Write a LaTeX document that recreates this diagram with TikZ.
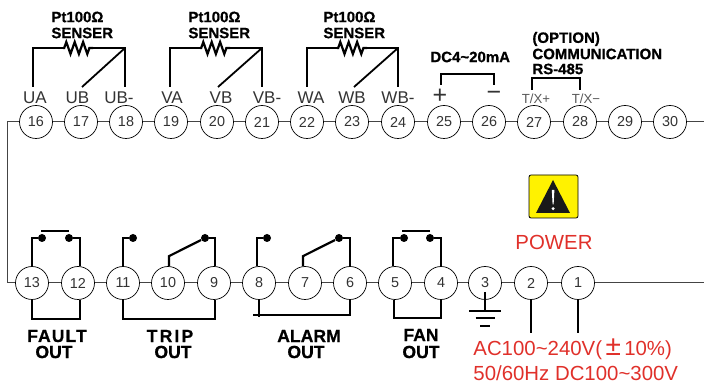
\documentclass[tikz,border=0pt]{standalone}
\usepackage{fontspec}
\setmainfont[BoldFeatures={FakeBold=0.7}]{Liberation Sans}
\usepackage{tikz}
\usetikzlibrary{calc, decorations.pathmorphing}
\definecolor{powerred}{HTML}{E0302A}
\definecolor{warnyellow}{HTML}{FFF200}
\definecolor{linkgray}{HTML}{444444}
\tikzset{
    term/.style={circle, draw, line width=0.35pt, minimum size=16.5pt, inner sep=0pt, text=black!80, font=\fontsize{7.2}{8}\selectfont},
    pinname/.style={inner sep=0pt, text=black!80, font=\fontsize{8.5}{10}\selectfont},
    txname/.style={inner sep=0pt, text=black!65, font=\fontsize{6.6}{8}\selectfont},
    sensertext/.style={inner sep=0pt, anchor=west, font=\fontsize{7.5}{9}\selectfont\bfseries},
    outtext/.style={inner sep=0pt, font=\fontsize{8.8}{10}\selectfont\bfseries},
    powertext/.style={inner sep=0pt, text=powerred, font=\fontsize{10.2}{12}\selectfont},
    wire/.style={line width=1.1pt, line join=miter},
    thinwire/.style={line width=0.9pt},
    link/.style={line width=0.5pt, draw=linkgray},
    res/.style={line width=1.1pt, decorate, decoration={zigzag, segment length=4.2pt, amplitude=3pt, pre length=0.6pt, post length=0.6pt}},
    dot/.style={circle, fill=black, inner sep=0pt, minimum size=4pt}
}
\begin{document}
\begin{tikzpicture}[x=0.5pt, y=-0.5pt]
    \useasboundingbox (0,0) rectangle (704,383);

    \node[term] at (36,122) (t16) {16};
    \node[term] at (81,122) (t17) {17};
    \node[term] at (126,122) (t18) {18};
    \node[term] at (171,122) (t19) {19};
    \node[term] at (217,122) (t20) {20};
    \node[term] at (262,122) (t21) {21};
    \node[term] at (307,122) (t22) {22};
    \node[term] at (352,122) (t23) {23};
    \node[term] at (398,122) (t24) {24};
    \node[term] at (444,122) (t25) {25};
    \node[term] at (489,122) (t26) {26};
    \node[term] at (534,122) (t27) {27};
    \node[term] at (580,122) (t28) {28};
    \node[term] at (625,122) (t29) {29};
    \node[term] at (670,122) (t30) {30};

    \node[term] at (32,283) (t13) {13};
    \node[term] at (78,283) (t12) {12};
    \node[term] at (123,283) (t11) {11};
    \node[term] at (168,283) (t10) {10};
    \node[term] at (214,283) (t9) {9};
    \node[term] at (259,283) (t8) {8};
    \node[term] at (305,283) (t7) {7};
    \node[term] at (350,283) (t6) {6};
    \node[term] at (395,283) (t5) {5};
    \node[term] at (441,283) (t4) {4};
    \node[term] at (485,283) (t3) {3};
    \node[term] at (531,283) (t2) {2};
    \node[term] at (578,283) (t1) {1};

    \draw[link] (t16) -- (t17);
    \draw[link] (t17) -- (t18);
    \draw[link] (t18) -- (t19);
    \draw[link] (t19) -- (t20);
    \draw[link] (t20) -- (t21);
    \draw[link] (t21) -- (t22);
    \draw[link] (t22) -- (t23);
    \draw[link] (t23) -- (t24);
    \draw[link] (t24) -- (t25);
    \draw[link] (t25) -- (t26);
    \draw[link] (t26) -- (t27);
    \draw[link] (t27) -- (t28);
    \draw[link] (t28) -- (t29);
    \draw[link] (t29) -- (t30);
    \draw[link] (t13) -- (t12);
    \draw[link] (t12) -- (t11);
    \draw[link] (t11) -- (t10);
    \draw[link] (t10) -- (t9);
    \draw[link] (t9) -- (t8);
    \draw[link] (t8) -- (t7);
    \draw[link] (t7) -- (t6);
    \draw[link] (t6) -- (t5);
    \draw[link] (t5) -- (t4);
    \draw[link] (t4) -- (t3);
    \draw[link] (t3) -- (t2);
    \draw[link] (t2) -- (t1);
    \coordinate (bend) at (7,122);
    \coordinate (right1) at (704,122);
    \coordinate (right2) at (704,283);
    \draw[link] (t16) -- (bend) |- (t13);
    \draw[link] (t30) -- (right1);
    \draw[link] (t1) -- (right2);

    \node[pinname] at (35,98) (ua) {UA};
    \node[pinname] at (77.5,98) (ub) {UB};
    \node[pinname] at (119,98) (ubm) {UB-};
    \node[pinname] at (172,98) (va) {VA};
    \node[pinname] at (221,98) (vb) {VB};
    \node[pinname] at (267,98) (vbm) {VB-};
    \node[pinname] at (311,98) (wa) {WA};
    \node[pinname] at (352,98) (wb) {WB};
    \node[pinname] at (398,98) (wbm) {WB-};
    \node[pinname, font=\fontsize{12.5}{13}\selectfont] at (440,96) (plus) {+};
    \node[pinname, font=\fontsize{12.5}{13}\selectfont] at (494,96) (minus) {−};
    \node[txname] at (536,99) (txp) {T/X+};
    \node[txname] at (586,99) (txm) {T/X−};

    \node[sensertext] at (51,17) (pt1) {Pt100Ω};
    \node[sensertext] at (51,33) (sen1) {SENSER};
    \node[sensertext] at (188,17) (pt2) {Pt100Ω};
    \node[sensertext] at (188,33) (sen2) {SENSER};
    \node[sensertext] at (323,17) (pt3) {Pt100Ω};
    \node[sensertext] at (323,33) (sen3) {SENSER};
    \node[sensertext] at (430,57) (dc) {DC4\textasciitilde20mA};
    \node[sensertext] at (532,39) (opt) {(OPTION)};
    \node[sensertext] at (532,54) (comm) {COMMUNICATION};
    \node[sensertext] at (532,69) (rs) {RS-485};

    \coordinate (a1) at (33,87);
    \coordinate (a2) at (63,48);
    \coordinate (a3) at (93,48);
    \coordinate (a4) at (125,48);
    \coordinate (a5) at (125,87);
    \coordinate (a6) at (82,87);
    \draw[wire] (a1) |- (a2);
    \draw[res] (a2) -- (a3);
    \draw[wire] (a3) -- (a4) -- (a5);
    \draw[thinwire] (a4) -- (a6);

    \coordinate (b1) at (170,87);
    \coordinate (b2) at (200,48);
    \coordinate (b3) at (230,48);
    \coordinate (b4) at (262,48);
    \coordinate (b5) at (262,87);
    \coordinate (b6) at (218,87);
    \draw[wire] (b1) |- (b2);
    \draw[res] (b2) -- (b3);
    \draw[wire] (b3) -- (b4) -- (b5);
    \draw[thinwire] (b4) -- (b6);

    \coordinate (c1) at (307,87);
    \coordinate (c2) at (337,48);
    \coordinate (c3) at (367,48);
    \coordinate (c4) at (398,48);
    \coordinate (c5) at (398,87);
    \coordinate (c6) at (354,87);
    \draw[wire] (c1) |- (c2);
    \draw[res] (c2) -- (c3);
    \draw[wire] (c3) -- (c4) -- (c5);
    \draw[thinwire] (c4) -- (c6);

    \coordinate (d1) at (441,85);
    \coordinate (d2) at (494,85);
    \draw[wire] (d1) -- ([yshift=5.5pt]d1) -- ([yshift=5.5pt]d2) -- (d2);
    \coordinate (e1) at (532,90);
    \coordinate (e2) at (580,90);
    \draw[wire] (e1) -- ([yshift=6pt]e1) -- ([yshift=6pt]e2) -- (e2);

    \node[dot] at (42,238) (f1) {};
    \node[dot] at (69,238) (f2) {};
    \coordinate (f3) at (41,231);
    \coordinate (f4) at (69,231);
    \draw[wire] (f3) -- (f4);
    \draw[wire] (t13.north) |- (f1);
    \draw[wire] ($(t12.north)+(2,0)$) |- (f2);
    \draw[wire] (t13.south) -- ++(0,19) -| ($(t12.south)+(2,0)$);

    \node[dot] at (133,238) (g1) {};
    \node[dot] at (205,238) (g2) {};
    \draw[wire] (t11.north) |- (g1);
    \draw[wire] ($(t9.north)+(1,0)$) |- (g2);
    \draw[wire] ($(t10.north)+(1,0)$) -- ++(0,-10) -- (g2);
    \draw[wire] (t11.south) -- ++(0,19) -| ($(t9.south)+(1,0)$);

    \node[dot] at (267,238) (h1) {};
    \node[dot] at (339,238) (h2) {};
    \coordinate (h3) at (253,315);
    \draw[wire] ($(t8.north)+(-2,0)$) |- (h1);
    \draw[wire] (t6.north) |- (h2);
    \draw[wire] ($(t7.north)+(-2,0)$) -- ++(0,-10) -- (h2);
    \draw[wire] (t8.south) -- ++(0,17);
    \draw[wire] (h3) -| (t6.south);

    \node[dot] at (404,238) (k1) {};
    \node[dot] at (430,238) (k2) {};
    \coordinate (k3) at (402,231);
    \coordinate (k4) at (430,231);
    \draw[wire] (k3) -- (k4);
    \draw[wire] ($(t5.north)+(-2,0)$) |- (k1);
    \draw[wire] (t4.north) |- (k2);
    \draw[wire] ($(t5.south)+(-1,0)$) -- ++(0,18) -| (t4.south);

    \coordinate (gnd) at (485,311);
    \draw[wire] (t3.center) ++(0,9) -- (gnd);
    \draw[wire] ($(gnd)+(-16,0)$) -- ($(gnd)+(16,0)$);
    \draw[wire] ($(gnd)+(-9.5,7)$) -- ($(gnd)+(9.5,7)$);
    \draw[wire] ($(gnd)+(-5,15)$) -- ($(gnd)+(5,15)$);

    \coordinate (p2) at (531,333);
    \coordinate (p1) at (578,333);
    \draw[wire] (t2.south) -- (p2);
    \draw[wire] (t1.south) -- (p1);

    \node[outtext] at (57,336) (fault) {\addfontfeatures{LetterSpace=6}FAULT};
    \node[outtext] at (54,352) (faultout) {OUT};
    \node[outtext] at (170,336) (trip) {\addfontfeatures{LetterSpace=12}TRIP};
    \node[outtext] at (173,352) (tripout) {OUT};
    \node[outtext] at (309,336) (alarm) {ALARM};
    \node[outtext] at (306,352) (alarmout) {OUT};
    \node[outtext] at (421,335) (fan) {FAN};
    \node[outtext] at (421,352) (fanout) {OUT};

    \draw[line width=0.4pt, rounded corners=1pt, fill=warnyellow] (529,175) rectangle (578,218);
    \fill[black!90] (553,180) -- (570,213) -- (536,213) -- cycle;
    \fill[white] (551.8,190) -- (554.4,190) -- (553.6,204.5) -- (552.6,204.5) -- cycle;
    \fill[white] (553.1,208.6) circle (0.85pt);

    \node[powertext] at (554,242) (power) {POWER};
    \node[powertext, anchor=west] at (473,349) (ac) {AC100\textasciitilde240V(\,{\fontsize{14}{12}\selectfont ±}\,10\%)};
    \node[powertext, anchor=west] at (473,373) (dc2) {50/60Hz DC100\textasciitilde300V};
\end{tikzpicture}
\end{document}
